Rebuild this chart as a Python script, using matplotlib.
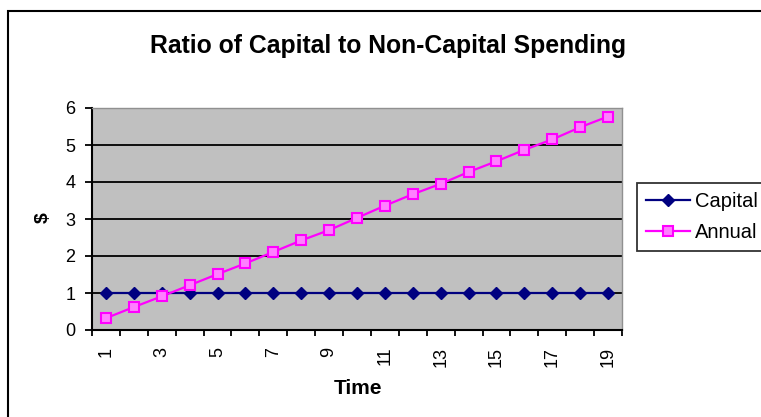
import numpy as np
import matplotlib
matplotlib.use("Agg")
import matplotlib.pyplot as plt
from matplotlib.patches import Rectangle

plt.rcParams['font.family'] = ['Liberation Sans', 'DejaVu Sans']

# data
time = list(range(1, 20))
capital = [1] * 19
annual = [0.32, 0.62, 0.91, 1.21, 1.51, 1.80, 2.11, 2.42, 2.70, 3.03,
          3.36, 3.67, 3.95, 4.27, 4.56, 4.87, 5.15, 5.48, 5.77]
y_ticks = [0, 1, 2, 3, 4, 5, 6]

fig = plt.figure(figsize=(7.61, 4.17), dpi=100)
W, H = 761, 417

# outer chart border (runs off the right and bottom edge)
fig.add_artist(Rectangle((8 / W, -0.1), 2, 1 - 11 / H + 0.1,
                         transform=fig.transFigure, fill=False,
                         edgecolor='black', lw=1.5))

ax = fig.add_axes([92 / W, (H - 330) / H, (622 - 92) / W, (330 - 108) / H])
ax.set_facecolor('#c0c0c0')

pos = np.arange(1, len(time) + 1)
ax.plot(pos, capital, color='#000080', lw=1.6, marker='D', markersize=6,
        markerfacecolor='#000080', markeredgecolor='#000080', label='Capital')
ax.plot(pos, annual, color='#ff00ff', lw=1.6, marker='s', markersize=7,
        markerfacecolor='#ff80ff', markeredgecolor='#ff00ff', markeredgewidth=1.5,
        label='Annual')

ax.set_xlim(0.5, len(time) + 0.5)
ax.set_ylim(0, 6)
ax.set_yticks(y_ticks)
for y in y_ticks[1:]:
    ax.axhline(y, color='black', lw=1.3, zorder=1)

# category ticks sit between categories, labels on every other one
ax.set_xticks(np.arange(0.5, len(time) + 1, 1.0))
ax.set_xticklabels([])
ax.set_xticks(pos, minor=True)
ax.set_xticklabels([str(t) if t % 2 == 1 else '' for t in time], minor=True,
                   rotation=90, fontsize=13)
ax.tick_params(axis='x', which='minor', length=0, pad=12)
ax.tick_params(axis='x', which='major', length=4, width=1.3, direction='out')
ax.tick_params(axis='y', length=5, width=1.3, direction='out', labelsize=13, pad=7)

for side in ['left', 'bottom']:
    ax.spines[side].set_linewidth(1.5)
    ax.spines[side].set_color('black')
for side in ['top', 'right']:
    ax.spines[side].set_linewidth(1.0)
    ax.spines[side].set_color('#909090')

fig.text(388 / W, 1 - 46 / H, 'Ratio of Capital to Non-Capital Spending',
         ha='center', va='center', fontsize=17.8, fontweight='bold')
fig.text(358 / W, 1 - 388 / H, 'Time', ha='center', va='center',
         fontsize=15, fontweight='bold')
fig.text(43 / W, 1 - 218 / H, '$', ha='center', va='center', rotation=90,
         fontsize=14, fontweight='bold')

leg = fig.legend(loc='upper left', bbox_to_anchor=(637 / W, 1 - 183 / H),
                 fontsize=14.5, frameon=True, fancybox=False, borderaxespad=0,
                 handlelength=2.2, handletextpad=0.25, borderpad=0.45,
                 labelspacing=0.6)
leg.get_frame().set_edgecolor('black')
leg.get_frame().set_linewidth(1.3)

plt.savefig('out.png', dpi=100)
